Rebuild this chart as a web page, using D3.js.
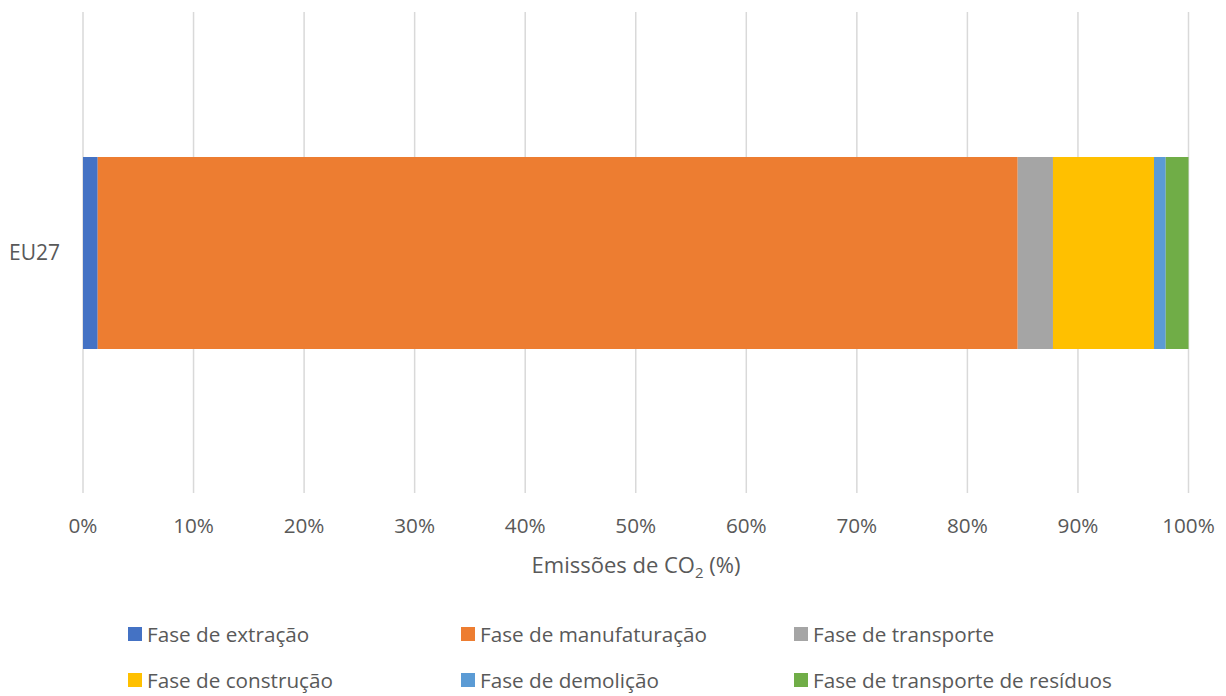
<!DOCTYPE html>
<html><head><meta charset="utf-8">
<script src="https://cdn.jsdelivr.net/npm/d3@7"></script>
<style>body{margin:0;background:#fff;} text{font-family:"Open Sans",sans-serif;fill:#595959;}</style>
</head><body>
<svg id="c" width="1226" height="696"></svg>
<script>
const categories = ["EU27"];
const seriesNames = ["Fase de extração","Fase de manufaturação","Fase de transporte","Fase de construção","Fase de demolição","Fase de transporte de resíduos"];
const seriesValues = [1.33, 83.22, 3.19, 9.14, 1.06, 2.06];
const seriesColors = ["#4472C4","#ED7D31","#A5A5A5","#FFC000","#5B9BD5","#70AD47"];
const tickValues = [0,10,20,30,40,50,60,70,80,90,100];

const svg = d3.select("#c");
const x = d3.scaleLinear().domain([0,100]).range([83,1188.5]);

// gridlines
svg.append("g").selectAll("line").data(tickValues).join("line")
  .attr("x1",d=>x(d)).attr("x2",d=>x(d)).attr("y1",12).attr("y2",493)
  .attr("stroke","#d9d9d9").attr("stroke-width",1.5);

// stacked bars
const total = d3.sum(seriesValues);
let acc = 0;
const segs = seriesValues.map((v,i)=>{const s={x0:acc/total*100,x1:(acc+v)/total*100,c:seriesColors[i]};acc+=v;return s;});
categories.forEach(cat=>{
  svg.append("g").selectAll("rect").data(segs).join("rect")
    .attr("x",d=>x(d.x0)).attr("width",d=>x(d.x1)-x(d.x0))
    .attr("y",157).attr("height",192)
    .attr("fill",d=>d.c);
});

// x tick labels
svg.append("g").selectAll("text").data(tickValues).join("text")
  .attr("x",d=>x(d)).attr("y",533).attr("text-anchor","middle")
  .style("font-size","20.7px").text(d=>d+"%");

// category label
svg.append("text").attr("x",9).attr("y",260).style("font-size","21px").text(categories[0]);

// axis title
const t = svg.append("text").attr("x",636).attr("y",573).attr("text-anchor","middle").style("font-size","22px");
t.append("tspan").text("Emissões de CO");
t.append("tspan").attr("dy",5).style("font-size","15px").text("2");
t.append("tspan").attr("dy",-5).text(" (%)");

// legend
const colX = [128,461,794];
const rowY = [634,680];
const lg = svg.append("g").selectAll("g").data(seriesNames).join("g")
  .attr("transform",(d,i)=>`translate(${colX[i%3]},${rowY[Math.floor(i/3)]})`);
lg.append("rect").attr("x",0).attr("y",-7).attr("width",14).attr("height",14).attr("fill",(d,i)=>seriesColors[i]);
lg.append("text").attr("x",19).attr("y",7.5).style("font-size","20.7px").text(d=>d);
</script>
</body></html>
